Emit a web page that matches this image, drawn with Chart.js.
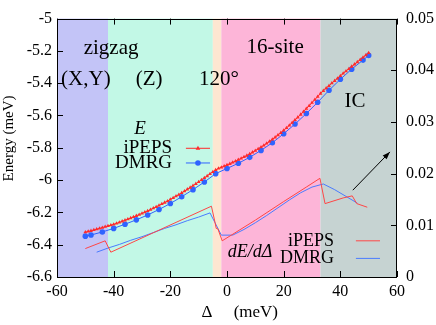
<!DOCTYPE html>
<html>
<head>
<meta charset="utf-8">
<script src="https://cdn.jsdelivr.net/npm/chart.js@4.4.0/dist/chart.umd.min.js"></script>
<style>
  html, body { margin: 0; padding: 0; background: #fff; }
</style>
</head>
<body>
<canvas id="chart" width="436" height="325"></canvas>
<script>
// phase regions along Delta
const regionEdges = [-60, -42, -5, -2, 33, 60];
const regionColors = ['#c3c4f7', '#c2f8e6', '#fde6d1', '#fdb5d8', '#c6d3d2'];

// energy, iPEPS (step 1 meV)
const ipepsDelta = [-50,-49,-48,-47,-46,-45,-44,-43,-42,-41,-40,-39,-38,-37,-36,-35,-34,-33,-32,-31,
  -30,-29,-28,-27,-26,-25,-24,-23,-22,-21,-20,-19,-18,-17,-16,-15,-14,-13,-12,-11,
  -10,-9,-8,-7,-6,-5,-4,-3,-2,-1,0,1,2,3,4,5,6,7,8,9,
  10,11,12,13,14,15,16,17,18,19,20,21,22,23,24,25,26,27,28,29,
  30,31,32,33,34,35,36,37,38,39,40,41,42,43,44,45,46,47,48,49,50];
const ipepsE = [-6.322,-6.318,-6.314,-6.309,-6.304,-6.299,-6.294,-6.289,-6.284,-6.279,
  -6.274,-6.268,-6.262,-6.255,-6.249,-6.242,-6.235,-6.228,-6.221,-6.214,
  -6.206,-6.199,-6.191,-6.183,-6.174,-6.166,-6.157,-6.148,-6.139,-6.130,
  -6.120,-6.110,-6.100,-6.090,-6.079,-6.068,-6.057,-6.046,-6.035,-6.023,
  -6.011,-5.999,-5.987,-5.975,-5.962,-5.949,-5.937,-5.928,-5.921,-5.914,
  -5.906,-5.899,-5.891,-5.883,-5.874,-5.866,-5.857,-5.848,-5.838,-5.828,
  -5.818,-5.807,-5.796,-5.785,-5.773,-5.761,-5.748,-5.735,-5.721,-5.707,
  -5.692,-5.677,-5.661,-5.645,-5.628,-5.611,-5.594,-5.576,-5.558,-5.540,
  -5.521,-5.502,-5.483,-5.464,-5.447,-5.431,-5.416,-5.400,-5.385,-5.370,
  -5.355,-5.340,-5.325,-5.311,-5.297,-5.283,-5.269,-5.255,-5.241,-5.227,-5.213];

// energy, DMRG
const dmrgDelta = [-50,-48,-44,-40,-36,-32,-28,-24,-20,-16,-12,-8,-4,0,4,8,12,16,20,24,28,32,36,40,44,48,50];
const dmrgE = [-6.347,-6.340,-6.321,-6.299,-6.273,-6.246,-6.216,-6.182,-6.145,-6.103,-6.059,-6.012,-5.960,
  -5.928,-5.896,-5.859,-5.816,-5.769,-5.713,-5.653,-5.588,-5.518,-5.444,-5.376,-5.313,-5.257,-5.228];

// dE/dDelta (right axis)
const ipepsSlopeDelta = [-50,-43,-41,-5.5,-4.2,-3.8,-3.2,-1.7,10,20,28,32.8,34.6,41,44.2,45.8,49.5];
const ipepsSlope = [0.0055,0.0070,0.0048,0.0137,0.0105,0.0094,0.0093,0.0070,0.0110,0.0146,0.0174,0.0191,0.0142,0.0153,0.0157,0.0142,0.0135];
const dmrgSlopeDelta = [-46,-42,-38,-34,-30,-26,-22,-18,-14,-10,-6,-2,2,6,10,14,18,22,26,30,34,38,42,46];
const dmrgSlope = [0.0048,0.0056,0.0063,0.0071,0.0078,0.0086,0.0094,0.0101,0.0109,0.0116,0.0124,0.0081,
  0.0081,0.0092,0.0105,0.0119,0.0134,0.0149,0.0163,0.0174,0.0180,0.0169,0.0156,0.0143];

const RED = '#ff2a2a';
const BLUE = '#2f63ff';
const RED_THIN = '#ff4646';
const BLUE_THIN = '#4a7bff';
const SERIF = '"Liberation Serif", "DejaVu Serif", serif';

Chart.defaults.font.family = SERIF;
Chart.defaults.color = '#000';

function pairs(xs, ys) {
    return xs.map((x, i) => ({ x: x, y: ys[i] }));
}

// text placed in data coordinates: [text, x, y, axis, font]
const labels = [
    ['zigzag', -40.9, -5.187, 'y', '21px'],
    ['(X,Y)', -49.8, -5.38, 'y', '21px'],
    ['(Z)', -27.5, -5.38, 'y', '21px'],
    ['120°', -2.8, -5.38, 'y', '21px'],
    ['16-site', 17, -5.181, 'y', '21px'],
    ['IC', 45.2, -5.513, 'y', '21px']
];

function drawMarker(ctx, kind, x, y, color) {
    ctx.fillStyle = color;
    ctx.beginPath();
    if (kind === 'triangle') {
        ctx.moveTo(x, y - 2.5);
        ctx.lineTo(x + 2.3, y + 1.5);
        ctx.lineTo(x - 2.3, y + 1.5);
        ctx.closePath();
    } else {
        ctx.arc(x, y, 2.8, 0, Math.PI * 2);
    }
    ctx.fill();
}

const decor = {
    id: 'decor',
    beforeDatasetsDraw(chart) {
        const { ctx, chartArea: a, scales: { x } } = chart;
        ctx.save();
        for (let i = 0; i < regionColors.length; i++) {
            const x0 = x.getPixelForValue(regionEdges[i]);
            const x1 = x.getPixelForValue(regionEdges[i + 1]);
            ctx.fillStyle = regionColors[i];
            ctx.fillRect(x0, a.top, x1 - x0, a.bottom - a.top);
        }
        ctx.restore();
    },
    afterDraw(chart) {
        const { ctx, chartArea: a, scales: { x, y, y2 } } = chart;
        ctx.save();

        // inward ticks
        ctx.strokeStyle = '#000';
        ctx.lineWidth = 1;
        ctx.beginPath();
        x.ticks.forEach(t => {
            const px = Math.round(x.getPixelForValue(t.value)) + 0.5;
            ctx.moveTo(px, a.bottom); ctx.lineTo(px, a.bottom - 6);
            ctx.moveTo(px, a.top); ctx.lineTo(px, a.top + 6);
        });
        y.ticks.forEach(t => {
            const py = Math.round(y.getPixelForValue(t.value)) + 0.5;
            ctx.moveTo(a.left, py); ctx.lineTo(a.left + 6, py);
        });
        y2.ticks.forEach(t => {
            const py = Math.round(y2.getPixelForValue(t.value)) + 0.5;
            ctx.moveTo(a.right, py); ctx.lineTo(a.right - 6, py);
        });
        ctx.stroke();

        // frame
        ctx.strokeRect(Math.round(a.left) + 0.5, Math.round(a.top) + 0.5,
            Math.round(a.right - a.left) - 1, Math.round(a.bottom - a.top));

        // region labels
        ctx.fillStyle = '#000';
        ctx.textAlign = 'center';
        ctx.textBaseline = 'middle';
        labels.forEach(l => {
            const sc = l[3] === 'y' ? y : y2;
            ctx.font = l[4] + ' ' + SERIF;
            ctx.fillText(l[0], x.getPixelForValue(l[1]), sc.getPixelForValue(l[2]));
        });

        // energy legend
        ctx.font = 'italic 19px ' + SERIF;
        ctx.fillText('E', x.getPixelForValue(-30.7), y.getPixelForValue(-5.682));
        ctx.font = '19px ' + SERIF;
        ctx.textAlign = 'right';
        const lx = x.getPixelForValue(-19.4);
        const s0 = x.getPixelForValue(-14.5), s1 = x.getPixelForValue(-6);
        [['iPEPS', -5.803, RED, 'triangle'], ['DMRG', -5.894, BLUE, 'circle']].forEach(e => {
            const py = y.getPixelForValue(e[1]);
            ctx.fillStyle = '#000';
            ctx.fillText(e[0], lx, py);
            ctx.strokeStyle = e[2];
            ctx.beginPath(); ctx.moveTo(s0, py); ctx.lineTo(s1, py); ctx.stroke();
            drawMarker(ctx, e[3], (s0 + s1) / 2, py, e[2]);
        });

        // slope legend
        ctx.fillStyle = '#000';
        ctx.textAlign = 'center';
        ctx.font = 'italic 18px ' + SERIF;
        ctx.fillText('dE/dΔ', x.getPixelForValue(8.1), y2.getPixelForValue(0.0047));
        ctx.font = '18px ' + SERIF;
        ctx.textAlign = 'right';
        const lx2 = x.getPixelForValue(37.8);
        const t0 = x.getPixelForValue(45.5), t1 = x.getPixelForValue(54);
        [['iPEPS', 0.0070, RED_THIN], ['DMRG', 0.0036, BLUE_THIN]].forEach(e => {
            const py = y2.getPixelForValue(e[1]);
            ctx.fillStyle = '#000';
            ctx.fillText(e[0], lx2, py);
            ctx.strokeStyle = e[2];
            ctx.beginPath(); ctx.moveTo(t0, py); ctx.lineTo(t1, py); ctx.stroke();
        });

        // arrow pointing to the right axis
        const ax0 = x.getPixelForValue(44.4), ay0 = y2.getPixelForValue(0.0168);
        const ax1 = x.getPixelForValue(57.5), ay1 = y2.getPixelForValue(0.0242);
        const ang = Math.atan2(ay1 - ay0, ax1 - ax0);
        ctx.strokeStyle = '#000';
        ctx.fillStyle = '#000';
        ctx.beginPath(); ctx.moveTo(ax0, ay0); ctx.lineTo(ax1, ay1); ctx.stroke();
        ctx.beginPath();
        ctx.moveTo(ax1, ay1);
        ctx.lineTo(ax1 - 8 * Math.cos(ang - 0.35), ay1 - 8 * Math.sin(ang - 0.35));
        ctx.lineTo(ax1 - 8 * Math.cos(ang + 0.35), ay1 - 8 * Math.sin(ang + 0.35));
        ctx.closePath();
        ctx.fill();

        ctx.restore();
    }
};

const tickFont = { family: SERIF, size: 16 };

new Chart(document.getElementById('chart').getContext('2d'), {
    type: 'line',
    data: {
        datasets: [
            {
                label: 'iPEPS',
                data: pairs(ipepsDelta, ipepsE),
                yAxisID: 'y',
                borderColor: RED,
                backgroundColor: RED,
                borderWidth: 1,
                pointStyle: 'triangle',
                pointRadius: 2.2,
                pointBorderWidth: 0,
                tension: 0
            },
            {
                label: 'DMRG',
                data: pairs(dmrgDelta, dmrgE),
                yAxisID: 'y',
                borderColor: BLUE,
                backgroundColor: BLUE,
                borderWidth: 1,
                pointStyle: 'circle',
                pointRadius: 2.8,
                pointBorderWidth: 0,
                tension: 0
            },
            {
                label: 'iPEPS dE',
                data: pairs(ipepsSlopeDelta, ipepsSlope),
                yAxisID: 'y2',
                borderColor: RED_THIN,
                borderWidth: 1,
                pointRadius: 0,
                tension: 0
            },
            {
                label: 'DMRG dE',
                data: pairs(dmrgSlopeDelta, dmrgSlope),
                yAxisID: 'y2',
                borderColor: BLUE_THIN,
                borderWidth: 1,
                pointRadius: 0,
                tension: 0
            }
        ]
    },
    options: {
        responsive: false,
        animation: false,
        devicePixelRatio: 1,
        layout: { padding: { top: 12, left: 0, right: 0, bottom: 0 } },
        plugins: {
            legend: { display: false },
            tooltip: { enabled: false }
        },
        scales: {
            x: {
                type: 'linear',
                min: -60,
                max: 60,
                ticks: { stepSize: 20, font: tickFont, color: '#000', padding: 5, maxRotation: 0 },
                grid: { display: false, drawTicks: false },
                border: { display: false },
                title: {
                    display: true,
                    text: '      Δ     (meV)',
                    font: { family: SERIF, size: 17 },
                    color: '#000',
                    padding: { top: 0, bottom: 2 }
                },
                afterFit: s => { s.height = 48; }
            },
            y: {
                position: 'left',
                min: -6.6,
                max: -5,
                ticks: {
                    stepSize: 0.2,
                    font: tickFont,
                    color: '#000',
                    padding: 5,
                    callback: v => String(Number(v.toFixed(1)))
                },
                grid: { display: false, drawTicks: false },
                border: { display: false },
                title: {
                    display: true,
                    text: '     Energy (meV)',
                    font: { family: SERIF, size: 15 },
                    color: '#000',
                    padding: { top: 0, bottom: 0 }
                },
                afterFit: s => { s.width = 57; }
            },
            y2: {
                position: 'right',
                min: 0,
                max: 0.05,
                ticks: {
                    stepSize: 0.01,
                    font: tickFont,
                    color: '#000',
                    padding: 9,
                    callback: v => String(Number(v.toFixed(2)))
                },
                grid: { display: false, drawTicks: false },
                border: { display: false },
                afterFit: s => { s.width = 39; }
            }
        }
    },
    plugins: [decor]
});
</script>
</body>
</html>
